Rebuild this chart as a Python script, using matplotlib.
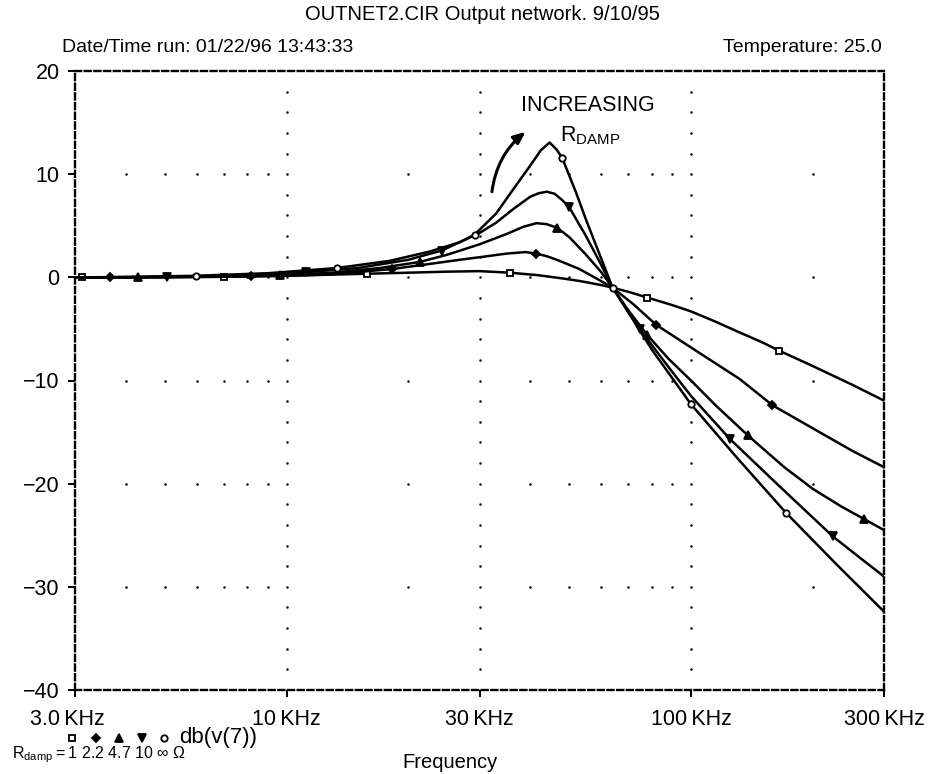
import numpy as np
import matplotlib
matplotlib.use('Agg')
import matplotlib.pyplot as plt
from matplotlib.lines import Line2D
from matplotlib.transforms import ScaledTranslation

plt.rcParams['font.family'] = ['Liberation Sans', 'DejaVu Sans']
plt.rcParams['mathtext.fontset'] = 'custom'
plt.rcParams['mathtext.rm'] = 'Liberation Sans'
plt.rcParams['mathtext.it'] = 'Liberation Sans'

# ---------------- texts ----------------
title = 'OUTNET2.CIR Output network. 9/10/95'
run_info = 'Date/Time run: 01/22/96 13:43:33'
temp_info = 'Temperature: 25.0'
x_label = 'Frequency'
trace_name = 'db(v(7))'
x_ticks = [3, 10, 30, 100, 300]                      # kHz
x_tick_labels = ['3.0\u2009KHz', '10\u2009KHz', '30\u2009KHz', '100\u2009KHz', '300\u2009KHz']
y_ticks = [20, 10, 0, -10, -20, -30, -40]
y_tick_labels = ['20', '10', '0', '\u221210', '\u221220', '\u221230', '\u221240']
rdamp_labels = ['1', '2.2', '4.7', '10', '\u221e']
marker_styles = ['s', 'D', '^', 'v', 'o']

# ---------------- data (frequency in kHz, gain in dB) ----------------
f_r1 = [3.0, 3.13, 5.0, 7.0, 10, 15.8, 20, 25, 30, 35.7, 42, 48, 53, 60, 64, 70, 78, 90,
        100, 115, 132, 150, 165, 200, 250, 300]
db_r1 = [0.0, 0.0, 0.0, 0.05, 0.15, 0.35, 0.45, 0.55, 0.6, 0.45, 0.2, -0.1, -0.35, -0.75,
         -1.0, -1.4, -1.96, -2.7, -3.3, -4.3, -5.35, -6.3, -7.1, -8.6, -10.4, -11.95]
mk_r1 = [3.13, 7.0, 15.8, 35.7, 78, 165]

f_r2 = [3.0, 3.66, 6, 8.16, 10, 13, 18.2, 22.6, 26.8, 30, 35, 39, 41.4, 44, 47.3, 53, 58,
        64, 72, 82, 100, 132, 159, 212, 250, 300]
db_r2 = [0.0, 0.0, 0.05, 0.1, 0.15, 0.3, 0.8, 1.3, 1.7, 1.95, 2.3, 2.45, 2.3, 2.05, 1.6,
         0.8, -0.05, -1.0, -2.6, -4.6, -6.8, -9.86, -12.4, -15.2, -16.8, -18.4]
mk_r2 = [3.66, 8.16, 18.2, 41.4, 82, 159]

f_r3 = [3.0, 4.29, 7, 9.64, 13, 17, 21.4, 25, 30, 35, 38.5, 41.5, 44, 46.7, 50, 55, 60, 64,
        70, 78, 88, 100, 115, 138, 170, 200, 235, 267, 300]
db_r3 = [0.0, 0.0, 0.08, 0.2, 0.45, 0.9, 1.5, 2.2, 3.2, 4.2, 4.9, 5.25, 5.15, 4.8, 3.9,
         2.2, 0.5, -1.0, -3.2, -5.6, -7.9, -10.0, -12.4, -15.3, -18.4, -20.5, -22.2,
         -23.4, -24.5]
mk_r3 = [4.29, 9.64, 21.4, 46.7, 78, 138, 267]

f_r4 = [3.0, 5.06, 8, 11.2, 15, 20, 24.2, 30, 33, 36.3, 40, 42, 44, 46, 48, 50, 55, 60, 64,
        74.6, 90, 100, 125, 166, 224, 260, 300]
db_r4 = [0.0, 0.05, 0.2, 0.5, 0.9, 1.7, 2.6, 4.3, 5.3, 6.6, 7.8, 8.15, 8.3, 8.1, 7.5, 6.8,
         4.0, 1.2, -1.0, -5.0, -9.2, -11.5, -15.7, -20.3, -25.1, -27.1, -29.0]
mk_r4 = [5.06, 11.2, 24.2, 50, 74.6, 125, 224]

f_r5 = [3.0, 3.5, 5.96, 9, 13.3, 18, 22.6, 26.8, 29.2, 33, 36.3, 40, 42.5, 44.7, 46.5, 48,
        52, 55, 60, 64, 70, 80, 100, 130, 171.5, 230, 300]
db_r5 = [0.0, 0.0, 0.15, 0.4, 0.9, 1.6, 2.5, 3.4, 4.15, 6.2, 8.5, 10.8, 12.3, 13.07, 12.4,
         11.6, 8.2, 5.6, 1.8, -1.0, -3.4, -7.0, -12.3, -17.5, -22.8, -27.9, -32.4]
mk_r5 = [5.96, 13.3, 29.2, 48, 64, 100, 171.5]

series = [(f_r1, db_r1, mk_r1), (f_r2, db_r2, mk_r2), (f_r3, db_r3, mk_r3),
          (f_r4, db_r4, mk_r4), (f_r5, db_r5, mk_r5)]

# annotation anchors (data coords)
arrow_tail = (32.2, 8.3)
arrow_head = (39.0, 14.1)
label_increasing = (55.5, 16.7)
label_rdamp = (56.5, 13.7)

# ---------------- figure ----------------
W, H = 932, 774
fig = plt.figure(figsize=(W / 100, H / 100), dpi=100)
L, R, T, B = 75, 884, 71, 690
ax = fig.add_axes([L / W, 1 - B / H, (R - L) / W, (B - T) / H])
ax.set_xscale('log')
ax.set_xlim(3, 300)
ax.set_ylim(-40, 20)

# dotted grid
minor_x = [k * d for d in (1, 10, 100) for k in range(2, 10) if 3 < k * d < 300
           and k * d not in (10, 30, 100)]
rows = [10, 0, -10, -20, -30]
gx, gy = [], []
for yv in rows:
    for xv in minor_x:
        gx.append(xv); gy.append(yv)
for xv in (10, 30, 100):
    for yv in np.arange(-38, 20, 2):
        gx.append(xv); gy.append(yv)
ax.plot(gx, gy, ls='none', marker='o', ms=1.8, mec='none', mfc='black', zorder=1)

MS = {'s': 4.6, 'o': 4.6, 'D': 3.8, '^': 5.5, 'v': 5.5}

# traces
for (f, db, mk), m in zip(series, marker_styles):
    f = np.asarray(f, float)
    idx = [int(np.argmin(np.abs(f - v))) for v in mk]
    open_face = m in ('s', 'o')
    ax.plot(f, db, color='black', lw=1.8, marker=m, markevery=idx, ms=MS[m],
            mfc='white' if open_face else 'black', mec='black', mew=1.3,
            solid_joinstyle='round', zorder=3)

# frame
for s in ax.spines.values():
    s.set_linestyle((0, (2.6, 1.5)))
    s.set_linewidth(1.7)
ax.set_xticks(x_ticks)
ax.set_xticklabels(x_tick_labels)
ax.xaxis.set_minor_locator(matplotlib.ticker.NullLocator())
ax.set_yticks(y_ticks)
ax.set_yticklabels(y_tick_labels)
ax.tick_params(axis='both', which='major', direction='out', length=5, width=1.4,
               labelsize=15.5, colors='black')
ax.tick_params(axis='x', pad=9)
ax.tick_params(axis='y', pad=6)
lbl0 = ax.get_xticklabels()[0]
lbl0.set_transform(lbl0.get_transform() + ScaledTranslation(-8 / 100, 0, fig.dpi_scale_trans))

# annotations
ax.annotate('', xy=arrow_head, xytext=arrow_tail,
            arrowprops=dict(arrowstyle='-|>,head_length=0.7,head_width=0.3', lw=2.2,
                            color='black', connectionstyle='arc3,rad=-0.2',
                            shrinkA=0, shrinkB=0))
ax.text(*label_increasing, 'INCREASING', ha='center', va='center', fontsize=15.5)
ax.text(*label_rdamp, r'R$_{\mathregular{DAMP}}$', ha='center', va='center', fontsize=15.5)

# header texts
fig.text(482 / W, 1 - 14 / H, title, ha='center', va='center', fontsize=14.5)
fig.text(62 / W, 1 - 47 / H, run_info, ha='left', va='center', fontsize=14)
fig.text(882 / W, 1 - 47 / H, temp_info, ha='right', va='center', fontsize=14)

# footer: legend and x label
legend_x = [72, 96, 119, 142, 164]
for m, lx in zip(marker_styles, legend_x):
    open_face = m in ('s', 'o')
    fig.add_artist(Line2D([lx / W], [1 - 738 / H], transform=fig.transFigure, marker=m,
                          ms=MS[m], mfc='white' if open_face else 'black', mec='black',
                          mew=1.3, ls='none'))
fig.text(179 / W, 1 - 738 / H, trace_name, ha='left', va='center', fontsize=16)
fig.text(12 / W, 1 - 755 / H,
         r'R$_{\mathregular{damp}}$' + '\u2009=\u2009' + ' '.join(rdamp_labels) + ' \u03a9',
         ha='left', va='center', fontsize=11.5)
fig.text(450 / W, 1 - 762 / H, x_label, ha='center', va='center', fontsize=14.5)

fig.savefig('out.png', dpi=100)
